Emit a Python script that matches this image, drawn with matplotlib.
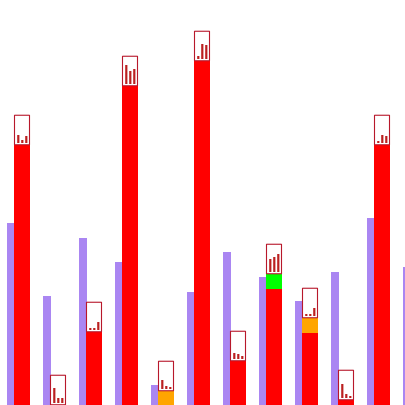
import numpy as np
import matplotlib
matplotlib.use("Agg")
import matplotlib.pyplot as plt
from matplotlib.patches import Rectangle

purple_values = [182, 109, 167, 143, 20, 113, 153, 128, 104, 133, 187, 138]
red_values = [260, 0, 73, 319, 0, 344, 44, 116, 72, 5, 260]
green_values = [0, 0, 0, 0, 0, 0, 0, 15, 0, 0, 0]
orange_values = [0, 0, 0, 0, 14, 0, 0, 0, 15, 0, 0]
mini_a = [8, 15, 2, 19, 9, 3, 6, 13, 2, 14, 2]
mini_b = [3, 5, 2, 13, 3, 15, 5, 15, 2, 4, 8]
mini_c = [7, 5, 8, 15, 2, 14, 3, 18, 8, 2, 7]

PURPLE = "#aa86f2"
RED = "#ff0000"
GREEN = "#00ff00"
ORANGE = "#ffa500"
DARK = "#b8182b"
MINI = "#bb2020"

PERIOD = 36.0
fig = plt.figure(figsize=(4.05, 4.05), dpi=100)
ax = fig.add_axes([0, 0, 1, 1])
ax.set_xlim(-7 / PERIOD, (405 - 7) / PERIOD)
ax.set_ylim(0, 405)
ax.axis("off")

px = 1 / PERIOD
x_all = np.arange(len(purple_values))
x = np.arange(len(red_values))
red = np.array(red_values, float)
green = np.array(green_values, float)
orange = np.array(orange_values, float)

ax.bar(x_all, purple_values, width=7.5 * px, align="edge", color=PURPLE, linewidth=0, zorder=1)
left = x + 7 * px
ax.bar(left, red, width=16 * px, align="edge", color=RED, linewidth=0, zorder=2)
ax.bar(left, green, bottom=red, width=16 * px, align="edge", color=GREEN, linewidth=0, zorder=2)
ax.bar(left, orange, bottom=red + green, width=16 * px, align="edge", color=ORANGE, linewidth=0, zorder=2)

tops = red + green + orange
box_h = 29.5
for xi, top, a, b, c in zip(left, tops, mini_a, mini_b, mini_c):
    ax.add_patch(Rectangle((xi + 0.5 * px, top + 0.25), 15 * px, box_h, facecolor="white",
                           edgecolor=DARK, linewidth=0.8, joinstyle="miter", zorder=3, snap=False))
    for off, h in zip((3.2, 7.2, 11.2), (a, b, c)):
        ax.bar(xi + off * px, h, bottom=top + 2, width=2.2 * px, align="edge",
               color=MINI, linewidth=0, zorder=4, snap=False)

fig.savefig("out.png", dpi=100, facecolor="white")
